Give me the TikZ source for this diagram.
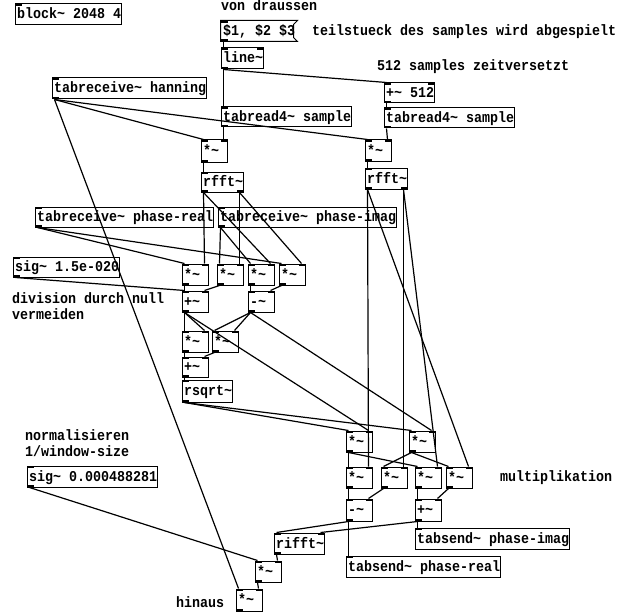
\documentclass[tikz,border=0pt]{standalone}
\usepackage{fontspec}
\newfontfamily\pdfont{Liberation Mono}[FakeStretch=0.889]
\newcommand\pdtext{\pdfont\bfseries\fontsize{15}{18}\selectfont}
\newcommand\tld{\string~}

\tikzset{
  pdbox/.style={draw, line width=1pt, inner xsep=2pt, inner ysep=0pt,
    text height=11pt, text depth=2pt, font=\pdtext},
  pdflag/.style={pdbox, draw=none},
  cmt/.style={inner sep=0pt, font=\pdtext, anchor=base west},
  wire/.style={line width=1.2pt},
  nub/.style={fill=black},
}

% object box: name, x, y, width, height, text (pixel units, y downwards)
\newcommand\pdobj[6]{\node[pdbox, minimum width=#4pt, minimum height=#5pt] (#1)
  at ({#2+#4/2},{#3+#5/2}) {\makebox[\dimexpr#4pt-4pt\relax][l]{#6}};}
% inlet / outlet nubs
\newcommand\pdil[1]{\fill[nub] (#1.north west) rectangle ([xshift=7pt,yshift=-2.5pt]#1.north west);}
\newcommand\pdir[1]{\fill[nub] ([xshift=-7pt]#1.north east) rectangle ([yshift=-2.5pt]#1.north east);}
\newcommand\pdol[1]{\fill[nub] (#1.south west) rectangle ([xshift=7pt,yshift=2.5pt]#1.south west);}
\newcommand\pdor[1]{\fill[nub] ([xshift=-7pt]#1.south east) rectangle ([yshift=2.5pt]#1.south east);}
% patch cords: left/right outlet to left/right inlet
\newcommand\wll[2]{\draw[wire] ([xshift=3pt]#1.south west) -- ([xshift=3pt]#2.north west);}
\newcommand\wlr[2]{\draw[wire] ([xshift=3pt]#1.south west) -- ([xshift=-4pt]#2.north east);}
\newcommand\wrr[2]{\draw[wire] ([xshift=-4pt]#1.south east) -- ([xshift=-4pt]#2.north east);}

\begin{document}
\begin{tikzpicture}[x=1pt,y=-1pt]
\fill[white] (0,0) rectangle (621,615);
\useasboundingbox (0,0) rectangle (621,615);

% ---- comments ----
\node[cmt] (c1) at (221,10.5) {von draussen};
\node[cmt] (c2) at (312,36) {teilstueck des samples wird abgespielt};
\node[cmt] (c3) at (377,70.5) {512 samples zeitversetzt};
\node[cmt] (c4) at (12,303) {division durch null};
\node[cmt] (c5) at (12,319) {vermeiden};
\node[cmt] (c6) at (25,440) {normalisieren};
\node[cmt] (c7) at (25,456) {1/window-size};
\node[cmt] (c8) at (176,607) {hinaus};
\node[cmt] (c9) at (500,481) {multiplikation};

% ---- objects ----
\pdobj{blk}{15}{4}{106}{21}{block\tld{} 2048 4}
\node[pdflag, minimum width=72pt, minimum height=20pt] (msg) at (257,31)
  {\makebox[68pt][l]{\$1, \$2 \$3}};
\draw[line width=1pt] (msg.north west) -- ([xshift=4pt]msg.north east)
  -- ([yshift=-4pt]msg.north east) -- ([yshift=4pt]msg.south east)
  -- ([xshift=4pt]msg.south east) -- (msg.south west) -- cycle;
\pdobj{linet}{221}{48}{42}{21}{line\tld}
\pdobj{plus512}{384}{83}{50}{20}{+\tld{} 512}
\pdobj{hann}{52}{78}{154}{21}{tabreceive\tld{} hanning}
\pdobj{trL}{221}{107}{130}{20}{tabread4\tld{} sample}
\pdobj{trR}{384}{108}{130}{20}{tabread4\tld{} sample}
\pdobj{mwL}{201}{140}{26}{22}{*\tld}
\pdobj{mwR}{365}{140}{26}{21}{*\tld}
\pdobj{fftL}{201}{172}{42}{20}{rfft\tld}
\pdobj{fftR}{365}{168}{42}{21}{rfft\tld}
\pdobj{prl}{35}{207}{178}{20}{tabreceive\tld{} phase-real}
\pdobj{pim}{218}{207}{178}{20}{tabreceive\tld{} phase-imag}
\pdobj{sig1}{13}{257}{106}{20}{sig\tld{} 1.5e-020}
\pdobj{m1}{182}{264}{26}{21}{*\tld}
\pdobj{m2}{217}{264}{26}{21}{*\tld}
\pdobj{m3}{248}{264}{26}{21}{*\tld}
\pdobj{m4}{279}{264}{26}{21}{*\tld}
\pdobj{add1}{182}{291}{26}{21}{+\tld}
\pdobj{sub1}{248}{291}{26}{21}{-\tld}
\pdobj{sq1}{182}{331}{26}{21}{*\tld}
\pdobj{sq2}{212}{331}{26}{21}{*\tld}
\pdobj{add2}{182}{357}{26}{20}{+\tld}
\pdobj{rsq}{182}{380}{50}{22}{rsqrt\tld}
\pdobj{mA}{346}{431}{26}{21}{*\tld}
\pdobj{mB}{409}{431}{26}{21}{*\tld}
\pdobj{mC}{346}{467}{26}{21}{*\tld}
\pdobj{mD}{381}{467}{26}{21}{*\tld}
\pdobj{mE}{415}{467}{26}{21}{*\tld}
\pdobj{mF}{446}{467}{26}{21}{*\tld}
\pdobj{sub2}{346}{499}{26}{22}{-\tld}
\pdobj{add3}{415}{499}{26}{22}{+\tld}
\pdobj{tsim}{415}{528}{154}{21}{tabsend\tld{} phase-imag}
\pdobj{tsre}{346}{556}{154}{21}{tabsend\tld{} phase-real}
\pdobj{ifft}{274}{533}{50}{21}{rifft\tld}
\pdobj{sig2}{27}{466}{130}{21}{sig\tld{} 0.000488281}
\pdobj{mN}{255}{561}{26}{21}{*\tld}
\pdobj{mO}{236}{589}{26}{22}{*\tld}

% ---- inlets and outlets ----
\pdil{blk}
\pdil{msg}\pdol{msg}
\pdil{linet}\pdir{linet}\pdol{linet}
\pdil{plus512}\pdir{plus512}\pdol{plus512}
\pdil{hann}\pdol{hann}
\pdil{trL}\pdol{trL}
\pdil{trR}\pdol{trR}
\pdil{fftL}\pdol{fftL}\pdor{fftL}
\pdil{fftR}\pdol{fftR}\pdor{fftR}
\pdil{prl}\pdol{prl}
\pdil{pim}\pdol{pim}
\pdil{sig1}\pdol{sig1}
\pdil{sig2}\pdol{sig2}
\pdil{rsq}\pdol{rsq}
\pdil{ifft}\pdir{ifft}\pdol{ifft}
\pdil{tsim}\pdil{tsre}
\foreach \n in {mwL,mwR,m1,m2,m3,m4,add1,sub1,sq1,sq2,add2,mA,mB,mC,mD,mE,mF,sub2,add3,mN,mO}
  {\pdil{\n}\pdir{\n}\pdol{\n}}

% ---- patch cords ----
\wll{msg}{linet}
\wll{linet}{trL}
\wll{linet}{plus512}
\wll{plus512}{trR}
\wll{hann}{mwL}
\wll{hann}{mwR}
\wll{hann}{mO}
\wlr{trL}{mwL}
\wlr{trR}{mwR}
\wll{mwL}{fftL}
\wll{mwR}{fftR}
% complex product with the stored phase
\wlr{fftL}{m1}
\wlr{fftL}{m3}
\wrr{fftL}{m2}
\wrr{fftL}{m4}
\wll{prl}{m1}
\wll{prl}{m4}
\wll{pim}{m2}
\wll{pim}{m3}
\wll{m1}{add1}
\wlr{m2}{add1}
\wll{m3}{sub1}
\wlr{m4}{sub1}
\wll{sig1}{add1}
% magnitude normalisation
\wll{add1}{sq1}
\wlr{add1}{sq1}
\wlr{add1}{mA}
\wll{sub1}{sq2}
\wlr{sub1}{sq2}
\wlr{sub1}{mB}
\wll{sq1}{add2}
\wlr{sq2}{add2}
\wll{add2}{rsq}
\wll{rsq}{mA}
\wll{rsq}{mB}
% multiplication with the second window
\wlr{fftR}{mC}
\wlr{fftR}{mF}
\wrr{fftR}{mD}
\wrr{fftR}{mE}
\wll{mA}{mC}
\wll{mA}{mE}
\wll{mB}{mD}
\wll{mB}{mF}
\wll{mC}{sub2}
\wlr{mD}{sub2}
\wll{mE}{add3}
\wlr{mF}{add3}
\wll{sub2}{tsre}
\wll{sub2}{ifft}
\wll{add3}{tsim}
\wlr{add3}{ifft}
% output scaling
\wlr{ifft}{mN}
\wll{sig2}{mN}
\wlr{mN}{mO}
\end{tikzpicture}
\end{document}
